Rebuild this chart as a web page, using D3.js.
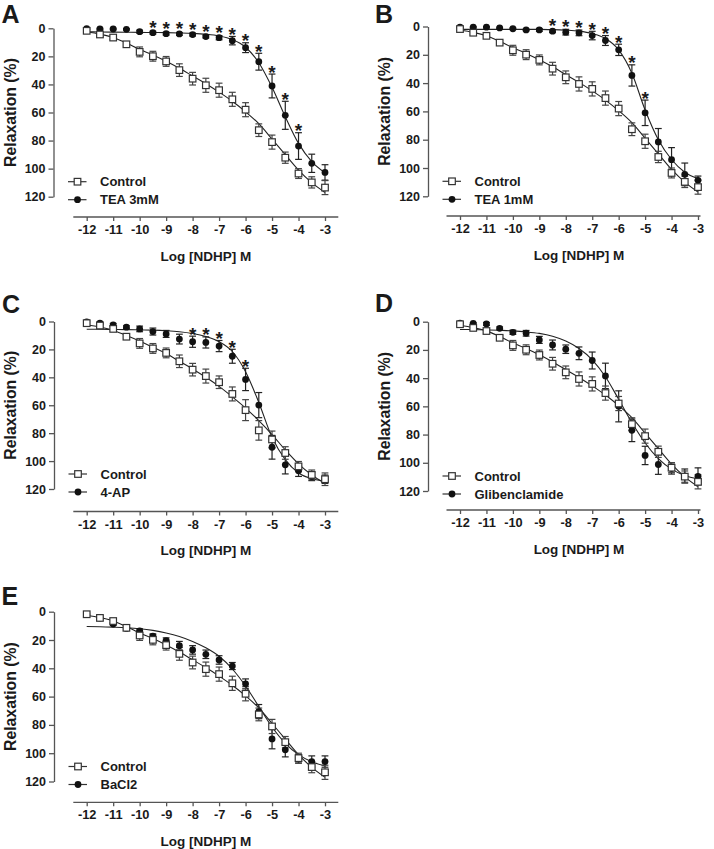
<!DOCTYPE html>
<html><head><meta charset="utf-8">
<script src="https://cdn.jsdelivr.net/npm/d3@7"></script>
<style>
body{margin:0;background:#fff}
svg{display:block}
text{font-family:"Liberation Sans",Arial,Helvetica,sans-serif;font-weight:bold;fill:#1a1a1a}
</style>
</head><body>
<svg id="chart" width="714" height="849"></svg>
<script>
// ---------- DATA ----------
const logConc = [-12,-11.5,-11,-10.5,-10,-9.5,-9,-8.5,-8,-7.5,-7,-6.5,-6,-5.5,-5,-4.5,-4,-3.5,-3];
const xTicks = [-12,-11,-10,-9,-8,-7,-6,-5,-4,-3];
const yTicks = [0,20,40,60,80,100,120];

const controlMean = [1.8,4.4,6.6,11.4,16.8,19.9,23.6,29.8,35.9,40.6,44.1,50.6,58,72.6,81.1,92.2,103.5,109.8,113.5];
const controlSem  = [1,1.5,1.5,1.5,3.5,3.5,3.5,4.5,4.5,5,5,5,5,4.5,5,4,3.5,4,5];
const controlFit  = [2.5,4.2,6.5,10.5,15,19,23.5,28.5,34,39.5,45.5,52,59.5,68,79,90,101,110,117];

const controlMeanC = [1.2,2.9,5.3,10.9,15.7,19.3,22.5,28.5,34.5,39.1,43.5,51.9,63.5,78,84.5,94.2,103.8,109.9,113];
const controlSemC  = [1,1.5,1.5,1.5,3.5,3.5,3.5,4.5,4.5,5,4.5,5,7.5,7,6,4.5,3.5,3.5,4.5];
const controlFitC  = [2.5,4,6.5,10,14,18.5,23,28.5,34,40,46.5,54,62,71,81,92,102,110,116];

const tea3Mean = [0.3,0.5,0.5,0.7,2.4,3.1,3.8,4,4.5,5.9,6.7,8.8,13.8,23.8,41.1,62,83.9,96.2,102.7];
const tea3Sem  = [0.5,0.5,0.5,0.5,1,1,1,1,1,1,1.5,3,3.5,6,8.5,10,9.5,6.5,5.5];
const tea3Fit  = [2.5,2.6,2.7,2.8,2.9,3,3.1,3.3,3.6,4.2,5.4,8,13.5,24.5,42,63,82,95,103];
const tea3Stars = [-9.5,-9,-8.5,-8,-7.5,-7,-6.5,-6,-5.5,-5,-4.5,-4];

const tea1Mean = [0.5,0.5,0.5,1,1.6,2.4,2.4,3.3,4,4.5,6.4,9.9,16.5,34.6,61,81.6,94.1,104.5,108.7];
const tea1Sem  = [0.5,0.5,0.5,0.5,0.5,0.5,1,1,2,2,3,3.5,4,7.5,9,9.5,8.5,8,3];
const tea1Fit  = [2,2,2,2,2,2,2,2.2,2.6,3.3,5,8.5,16.5,33,59,80,94,103,107.5];
const tea1Stars = [-8.5,-8,-7.5,-7,-6.5,-6,-5.5,-5];

const apMean = [0.2,1.2,2.4,4.1,5.3,7.2,8.9,12.6,14.5,15,17.6,24.9,41.5,59.9,90.1,102.7,107,111,113];
const apSem  = [1,1,1,1,2,2.5,2.5,3.5,4,4,4,5,8,9,8.5,6.5,4,3,3];
const apFit  = [5.5,5.6,5.7,5.8,6,6.2,6.6,7.3,8.6,10.8,14.5,21.5,36,58,83,99,108.5,112.5,114.5];
const apStars = [-8,-7.5,-7,-6.5,-6];

const glibMean = [1,1.2,1.6,4.7,7.5,8.2,12.9,16.5,19.5,22.4,27.5,38.4,60,77,94.8,101.2,104,109.4,109.6];
const glibSem  = [0.5,0.5,1,1,1.5,2,2.5,3.5,3,4.5,6,9,11,8,6.5,7,4,5,6];
const glibFit  = [5.5,5.6,5.8,6.1,6.5,7.2,8.3,10.3,13.7,19,27,39,55,71.5,86,97,104.5,109,111.5];

const bacl2Mean = [2,4.5,8.7,11.8,13.6,17.2,20.5,24,27,30.1,34.1,38.4,51,70.6,89.9,97.6,104,105.9,105.9];
const bacl2Sem  = [0.5,0.5,1,1,1.5,1.5,2,3,3,3,3,2.5,3.5,5,7,5,3,4,4];
const bacl2Fit  = [10.5,10.6,10.9,11.3,12,13.2,15,17.5,21,25.5,31.5,40.5,52.5,67,81.5,93,101,106,109];

const panelLetters = ["A","B","C","D","E"];
const treatmentNames = ["TEA 3mM","TEA 1mM","4-AP","Glibenclamide","BaCl2"];
const controlName = "Control";
const xTitle = "Log [NDHP] M";
const yTitle = "Relaxation (%)";

// ---------- LAYOUT ----------
const layout = [
  {ax:53.5, y0:28.3, y120:196.7, xAxisY:217,   x12:86.7, x3:325,  xl:73.3,  xr:338.3, lx:1.5, ly:23},
  {ax:428,  y0:26.5, y120:196.3, xAxisY:216,   x12:460,  x3:698,  xl:446.5, xr:700.5, lx:375, ly:23},
  {ax:54,   y0:321.5,y120:489,   xAxisY:511.5, x12:86.7, x3:325,  xl:73.3,  xr:338.3, lx:2,   ly:313.3},
  {ax:428,  y0:321.7,y120:491,   xAxisY:510,   x12:460,  x3:698,  xl:446.5, xr:700.5, lx:375, ly:311.7},
  {ax:54,   y0:611.7,y120:781.5, xAxisY:802.3, x12:86.7, x3:325,  xl:73.3,  xr:338.3, lx:1.5, ly:605}
];

const panels = [
  {ctrl:[controlMean,controlSem,controlFit], trt:[tea3Mean,tea3Sem,tea3Fit], stars:tea3Stars},
  {ctrl:[controlMean,controlSem,controlFit], trt:[tea1Mean,tea1Sem,tea1Fit], stars:tea1Stars},
  {ctrl:[controlMeanC,controlSemC,controlFitC], trt:[apMean,apSem,apFit], stars:apStars},
  {ctrl:[controlMean,controlSem,controlFit], trt:[glibMean,glibSem,glibFit], stars:[]},
  {ctrl:[controlMean,controlSem,controlFit], trt:[bacl2Mean,bacl2Sem,bacl2Fit], stars:[]}
];

const svg = d3.select("#chart");
const axisColor = "#555";
const lineColor = "#222";
const sq = 6.6, rDot = 3.4, cap = 3.4;

panels.forEach((pd, i) => {
  const L = layout[i];
  const g = svg.append("g");
  const x = d3.scaleLinear().domain([-12,-3]).range([L.x12, L.x3]);
  const y = d3.scaleLinear().domain([0,120]).range([L.y0, L.y120]);

  // panel letter
  g.append("text").attr("x", L.lx).attr("y", L.ly).style("font-size","25px").text(panelLetters[i]);

  // y axis
  const ya = g.append("g").attr("transform", `translate(${L.ax},0)`)
    .call(d3.axisLeft(y).tickValues(yTicks).tickSize(5).tickSizeOuter(0).tickPadding(3));
  ya.selectAll("path,line").attr("stroke", axisColor).attr("stroke-width", 1.3);
  ya.selectAll("text").style("font-size","12.5px").style("font-family",'"Liberation Sans",Arial,sans-serif').style("font-weight","bold").attr("fill","#1a1a1a");

  // x axis
  const xa = g.append("g").attr("transform", `translate(0,${L.xAxisY})`)
    .call(d3.axisBottom(x).tickValues(xTicks).tickSize(4).tickSizeOuter(0).tickPadding(4).tickFormat(d => String(d)));
  xa.select(".domain").remove();
  xa.append("line").attr("x1", L.xl).attr("x2", L.xr).attr("y1", 0).attr("y2", 0)
    .attr("stroke", axisColor).attr("stroke-width", 1.3);
  xa.selectAll(".tick line").attr("stroke", axisColor).attr("stroke-width", 1.3);
  xa.selectAll("text").style("font-size","12.8px").style("font-family",'"Liberation Sans",Arial,sans-serif').style("font-weight","bold").attr("fill","#1a1a1a");

  // titles
  g.append("text").attr("x", (L.x12 + L.x3) / 2).attr("y", L.xAxisY + 39)
    .attr("text-anchor","middle").attr("dominant-baseline","central")
    .style("font-size","13.5px").text(xTitle);
  g.append("text").attr("transform", `translate(${L.ax - 43.5},${(L.y0 + L.y120) / 2}) rotate(-90)`)
    .attr("text-anchor","middle").attr("dominant-baseline","central")
    .style("font-size","15.8px").text(yTitle);

  const line = d3.line().x((d, j) => x(logConc[j])).y(d => y(d)).curve(d3.curveMonotoneX);

  // fitted curves
  [pd.trt[2], pd.ctrl[2]].forEach(fit => {
    g.append("path").attr("d", line(fit)).attr("fill","none").attr("stroke", lineColor).attr("stroke-width", 1.1);
  });

  // error bars
  function errBars(mean, sem, color) {
    const eb = g.append("g").attr("stroke", color).attr("stroke-width", 1.2);
    mean.forEach((m, j) => {
      const cx = x(logConc[j]);
      const yt = y(m - sem[j]), yb = y(m + sem[j]);
      eb.append("line").attr("x1", cx).attr("x2", cx).attr("y1", yt).attr("y2", yb);
      eb.append("line").attr("x1", cx - cap).attr("x2", cx + cap).attr("y1", yt).attr("y2", yt);
      eb.append("line").attr("x1", cx - cap).attr("x2", cx + cap).attr("y1", yb).attr("y2", yb);
    });
  }
  errBars(pd.trt[0], pd.trt[1], "#222");
  errBars(pd.ctrl[0], pd.ctrl[1], "#444");

  // treatment dots
  g.append("g").selectAll("circle").data(pd.trt[0]).join("circle")
    .attr("cx", (d, j) => x(logConc[j])).attr("cy", d => y(d)).attr("r", rDot).attr("fill", "#111");
  // control squares
  g.append("g").selectAll("rect").data(pd.ctrl[0]).join("rect")
    .attr("x", (d, j) => x(logConc[j]) - sq / 2).attr("y", d => y(d) - sq / 2)
    .attr("width", sq).attr("height", sq).attr("fill", "#fff").attr("stroke", "#333").attr("stroke-width", 1.2);

  // significance stars
  pd.stars.forEach(c => {
    const j = logConc.indexOf(c);
    const m = pd.trt[0][j], s = pd.trt[1][j];
    const top = Math.min(y(m - s), y(m) - rDot);
    const center = top - 6.5;
    g.append("text").attr("x", x(c)).attr("y", center + 11).attr("text-anchor","middle")
      .style("font-size","19px").style("font-weight","bold").text("*");
  });

  // legend
  const rows = [
    {name: controlName, type: "sq", yy: L.y120 - 15},
    {name: treatmentNames[i], type: "dot", yy: L.y120 + 3}
  ];
  rows.forEach(rw => {
    const lg = g.append("g");
    lg.append("line").attr("x1", L.ax + 14.5).attr("x2", L.ax + 33).attr("y1", rw.yy).attr("y2", rw.yy)
      .attr("stroke", "#333").attr("stroke-width", 1.2);
    const mx = L.ax + 24;
    if (rw.type === "sq") {
      lg.append("rect").attr("x", mx - sq / 2).attr("y", rw.yy - sq / 2).attr("width", sq).attr("height", sq)
        .attr("fill", "#fff").attr("stroke", "#333").attr("stroke-width", 1.2);
    } else {
      lg.append("circle").attr("cx", mx).attr("cy", rw.yy).attr("r", rDot).attr("fill", "#111");
    }
    lg.append("text").attr("x", L.ax + 46.5).attr("y", rw.yy).attr("dominant-baseline","central")
      .style("font-size","13px").text(rw.name);
  });
});
</script>
</body></html>
